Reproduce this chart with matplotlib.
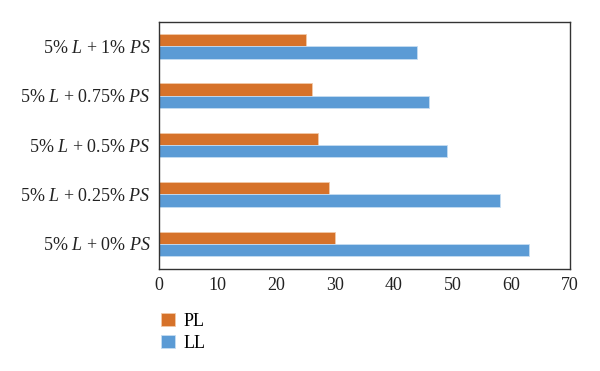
import numpy as np
import matplotlib
matplotlib.use("Agg")
import matplotlib.pyplot as plt

plt.rcParams['font.family'] = ['Liberation Serif', 'DejaVu Serif']
plt.rcParams['mathtext.fontset'] = 'custom'
plt.rcParams['mathtext.rm'] = 'Liberation Serif'
plt.rcParams['mathtext.it'] = 'Liberation Serif:italic'

# data (bottom to top)
categories = ["5% $L$ + 0% $PS$", "5% $L$ + 0.25% $PS$", "5% $L$ + 0.5% $PS$",
              "5% $L$ + 0.75% $PS$", "5% $L$ + 1% $PS$"]
pl_values = [30, 29, 27, 26, 25]
ll_values = [63, 58, 49, 46, 44]
xticks = [0, 10, 20, 30, 40, 50, 60, 70]

orange = "#D6722A"
blue = "#5B9BD5"

fig = plt.figure(figsize=(6, 3.71), dpi=100)
ax = fig.add_axes([0.265, 0.276, 0.685, 0.666])

y = np.arange(len(categories))
h = 0.25
ax.barh(y + h / 2, pl_values, height=h, color=orange, edgecolor="#F2C9A8",
        linewidth=0.6, label="PL")
ax.barh(y - h / 2, ll_values, height=h, color=blue, edgecolor="#C6DDF2",
        linewidth=0.6, label="LL")

ax.set_xlim(0, 70)
ax.set_ylim(-0.5, len(categories) - 0.5)
ax.set_xticks(xticks)
ax.set_yticks(y)
ax.set_yticklabels(categories)
ax.tick_params(axis='both', length=0, labelsize=13, colors="#222222")
ax.tick_params(axis='y', pad=6)
ax.tick_params(axis='x', pad=6)
for s in ax.spines.values():
    s.set_color("#333333")
    s.set_linewidth(1.0)

fig.legend(loc="upper left", bbox_to_anchor=(0.257, 0.177), frameon=False,
           fontsize=13, handlelength=0.75, handleheight=0.75,
           handletextpad=0.45, labelspacing=0.3, borderaxespad=0)

fig.savefig("out.png", dpi=100)
